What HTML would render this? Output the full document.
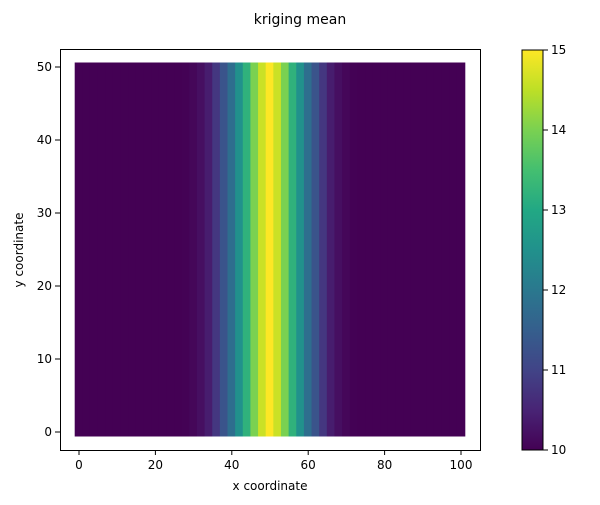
<!DOCTYPE html>
<html><head><meta charset="utf-8"><style>body{margin:0;background:#fff}svg{font-family:"DejaVu Sans","Liberation Sans",sans-serif}</style></head>
<body>
<svg id="c" width="600" height="500" xmlns="http://www.w3.org/2000/svg">
<text x="300" y="24" text-anchor="middle" font-size="14">kriging mean</text>
<g id="marks"></g>
<rect x="60.5" y="49.5" width="420" height="401" fill="none" stroke="#000" stroke-width="1"/>
<g id="axes" font-size="12"></g>
<text x="270" y="490" text-anchor="middle" font-size="12">x coordinate</text>
<text x="23" y="250" text-anchor="middle" font-size="12" transform="rotate(-90 23 250)">y coordinate</text>
<defs><linearGradient id="vg" x1="0" y1="1" x2="0" y2="0"></linearGradient></defs>
<rect x="522" y="50" width="21" height="400" fill="url(#vg)" stroke="#000" stroke-width="1"/>
<g id="cb" font-size="12"></g>
</svg>
<script>
const xCols=[0,2,4,6,8,10,12,14,16,18,20,22,24,26,28,30,32,34,36,38,40,42,44,46,48,50,52,54,56,58,60,62,64,66,68,70,72,74,76,78,80,82,84,86,88,90,92,94,96,98,100];
const colVals=[10,10,10,10,10,10,10,10,10,10,10,10,10,10,10.02,10.08,10.2,10.4,10.8,11.3,11.8,12.5,13.2,14.0,14.6,15,14.6,14.0,13.2,12.5,11.8,11.3,10.8,10.4,10.2,10.08,10.02,10,10,10,10,10,10,10,10,10,10,10,10,10,10];
const xTicks=[0,20,40,60,80,100];
const yTicks=[0,10,20,30,40,50];
const cbTicks=[10,11,12,13,14,15];
const NS='http://www.w3.org/2000/svg';
const vir=[[68,1,84],[72,36,117],[65,68,135],[53,95,141],[42,120,142],[33,145,140],[34,168,132],[68,191,112],[122,209,81],[189,223,38],[253,231,37]];
function viridis(t){t=Math.max(0,Math.min(1,t));const p=t*10,i=Math.min(9,Math.floor(p)),f=p-i;const a=vir[i],b=vir[i+1];return `rgb(${a.map((v,k)=>Math.round(v+(b[k]-v)*f)).join(',')})`;}
const sx=x=>79+x*3.82, sy=y=>432-y*7.3;
const vmin=10,vmax=15, cy=v=>450-(v-vmin)/(vmax-vmin)*400;
function el(t,a,p){const e=document.createElementNS(NS,t);for(const k in a)e.setAttribute(k,a[k]);(p||document.getElementById('c')).appendChild(e);return e;}
const marks=document.getElementById('marks');
xCols.forEach((x,i)=>{
 const r=el('rect',{x:sx(x)-4.3,y:sy(50)-4.5,width:8.6,height:sy(0)-sy(50)+9,fill:viridis((colVals[i]-vmin)/(vmax-vmin))},marks);
 
 
});
const ax=document.getElementById('axes');
xTicks.forEach(v=>{const x=sx(v);el('line',{x1:x,y1:450,x2:x,y2:455,stroke:'#000'},ax);
 const t=el('text',{x:x,y:469,'text-anchor':'middle'},ax);t.textContent=v;
 
 });
yTicks.forEach(v=>{const y=sy(v);el('line',{x1:55,y1:y,x2:60,y2:y,stroke:'#000'},ax);
 const t=el('text',{x:52,y:y+4,'text-anchor':'end'},ax);t.textContent=v;
 
 });
const g=document.getElementById('vg');
vir.forEach((c,i)=>el('stop',{offset:(i*10)+'%','stop-color':`rgb(${c.join(',')})`},g));
const cb=document.getElementById('cb');
cbTicks.forEach(v=>{const y=cy(v);el('line',{x1:543,y1:y,x2:548,y2:y,stroke:'#000'},cb);
 const t=el('text',{x:551,y:y+4},cb);t.textContent=v;
 
 });
</script>
</body></html>
